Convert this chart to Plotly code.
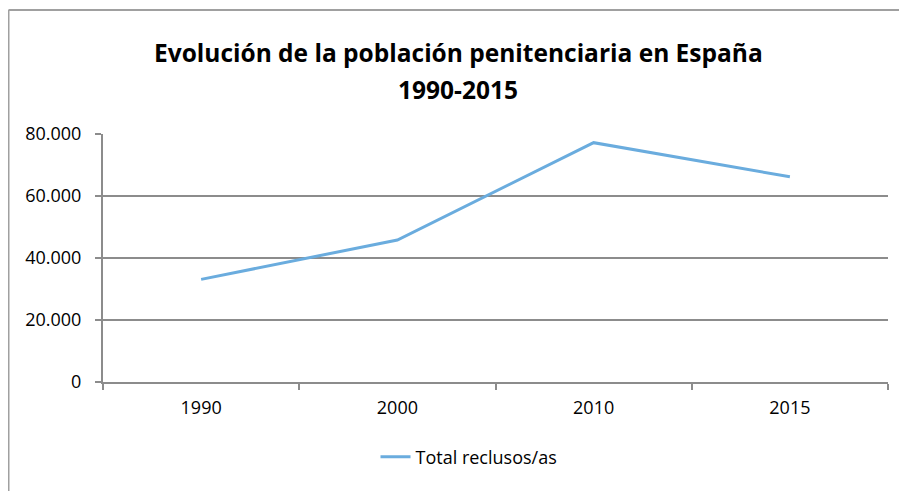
import plotly.graph_objects as go

years = ["1990", "2000", "2010", "2015"]
reclusos = [33100, 45800, 77200, 66200]
series_name = "Total reclusos/as"
y_ticks = [0, 20000, 40000, 60000, 80000]
y_ticktext = ["0", "20.000", "40.000", "60.000", "80.000"]
title_line1 = "Evolución de la población penitenciaria en España"
title_line2 = "1990-2015"

W, H = 907, 491
OFF = 8  # page body margin offset
L, R, T, B = 103 - OFF, 19 + OFF, 134 - OFF, 109 + OFF
pw, ph = W - L - R, H - T - B

def px(x):
    return (x - OFF - L) / pw

def py(y):
    return (H - B - (y - OFF)) / ph

fig = go.Figure()
fig.add_trace(go.Scatter(
    x=years, y=reclusos, mode="lines", name=series_name,
    line=dict(color="#6AACDE", width=3), showlegend=True,
))

grid = "#8C8C8C"
font = "Open Sans, sans-serif"
fig.update_layout(
    width=W, height=H,
    margin=dict(l=L, r=R, t=T, b=B),
    paper_bgcolor="white", plot_bgcolor="white",
    font=dict(family=font, size=18, color="#000000"),
    showlegend=True,
    legend=dict(orientation="h", x=px(469), xanchor="center", y=py(457), yanchor="middle",
                font=dict(family=font, size=18), bgcolor="rgba(0,0,0,0)"),
    xaxis=dict(type="category", range=[-0.5, 3.5], showgrid=False, showline=True, linecolor=grid, linewidth=2,
               ticks="outside", tickson="boundaries", ticklen=6, tickwidth=2, tickcolor=grid,
               ticklabelstandoff=8, fixedrange=True),
    yaxis=dict(range=[0, 80000], tickvals=y_ticks, ticktext=y_ticktext,
               showgrid=True, gridcolor=grid, gridwidth=2, showline=True, linecolor=grid, linewidth=2,
               ticks="outside", ticklen=6, tickwidth=2, tickcolor=grid, zeroline=False,
               ticklabelstandoff=10, fixedrange=True),
)

for txt, yc in [(title_line1, 53), (title_line2, 89)]:
    fig.add_annotation(text="<b>" + txt + "</b>", xref="paper", yref="paper", x=px(458), y=py(yc),
                       xanchor="center", yanchor="middle", showarrow=False,
                       font=dict(family=font, size=24.5, color="#000000"))

# outer chart border (top and left visible)
fig.add_shape(type="line", xref="paper", yref="paper", x0=px(8.5), x1=px(930), y0=py(10), y1=py(10),
              line=dict(color="#A0A0A0", width=2))
fig.add_shape(type="line", xref="paper", yref="paper", x0=px(8.5), x1=px(8.5), y0=py(10), y1=py(520),
              line=dict(color="#A0A0A0", width=2))

fig.write_html("out.html")
